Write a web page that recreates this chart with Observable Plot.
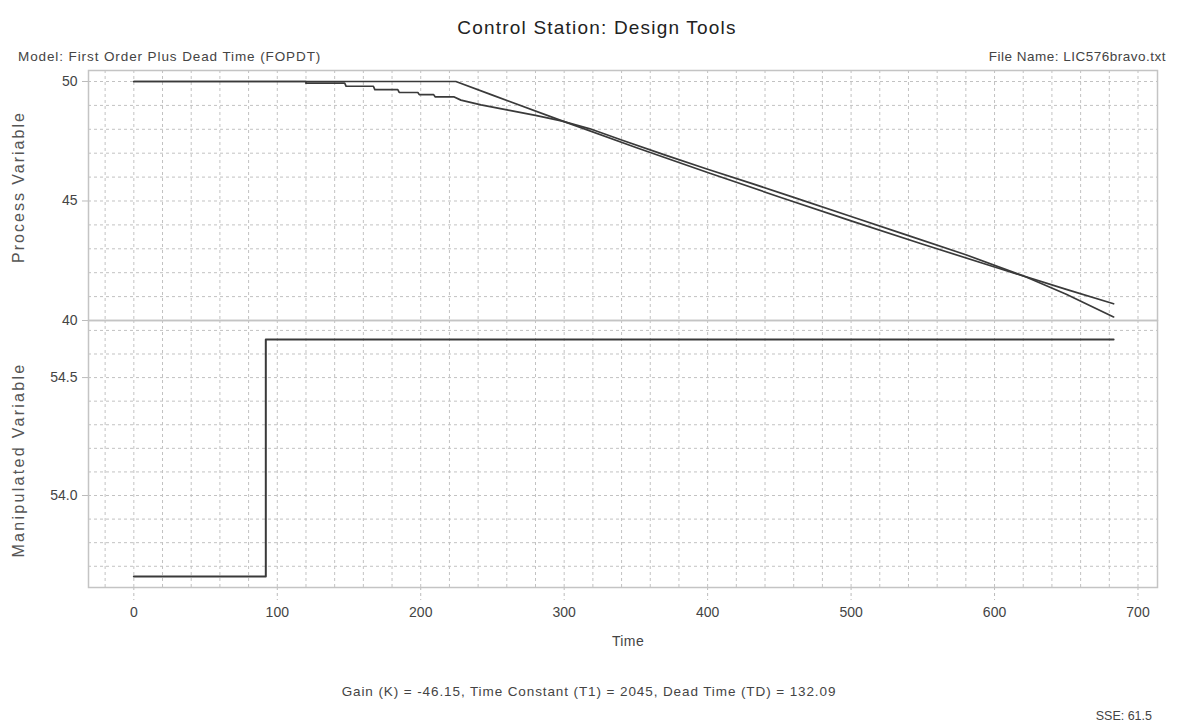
<!DOCTYPE html>
<html>
<head>
<meta charset="utf-8">
<script src="https://cdn.jsdelivr.net/npm/d3@7"></script>
<script src="https://cdn.jsdelivr.net/npm/@observablehq/plot@0.6"></script>
<style>
  html, body { margin: 0; padding: 0; background: #fff; }
  #wrap { position: relative; width: 1188px; height: 725px; font-family: "Liberation Sans", Arial, sans-serif; color: #333; overflow: hidden; }
  .t { position: absolute; white-space: nowrap; }
  svg { overflow: visible; }
</style>
</head>
<body>
<div id="wrap">
  <div class="t" id="title" style="left:597px; top:28px; transform:translate(-50%,-50%); font-size:19px; letter-spacing:1.2px; color:#222;">Control Station: Design Tools</div>
  <div class="t" style="left:18px; top:56px; transform:translateY(-50%); font-size:13.5px; letter-spacing:0.9px; color:#444;">Model: First Order Plus Dead Time (FOPDT)</div>
  <div class="t" style="right:22px; top:56px; transform:translateY(-50%); font-size:13.5px; letter-spacing:0.5px; color:#444;">File Name: LIC576bravo.txt</div>
  <div class="t" style="left:19px; top:187px; transform:translate(-50%,-50%) rotate(-90deg); font-size:16px; letter-spacing:2px; color:#555;">Process Variable</div>
  <div class="t" style="left:19px; top:460px; transform:translate(-50%,-50%) rotate(-90deg); font-size:16px; letter-spacing:2.3px; color:#555;">Manipulated Variable</div>
  <div class="t" style="left:628px; top:641px; transform:translate(-50%,-50%); font-size:14px; letter-spacing:0.4px; color:#444;">Time</div>
  <div class="t" style="left:589px; top:691px; transform:translate(-50%,-50%); font-size:13.5px; letter-spacing:0.9px; color:#444;">Gain (K) = -46.15, Time Constant (T1) = 2045, Dead Time (TD) = 132.09</div>
  <div class="t" style="right:36px; top:716px; transform:translateY(-50%); font-size:12.5px; color:#444;">SSE: 61.5</div>
  <div id="pv" style="position:absolute; left:0; top:70px;"></div>
  <div id="mv" style="position:absolute; left:0; top:320px;"></div>
</div>
<script>
// ---- data ----
const pvTime = [0, 120, 120, 147, 148, 167, 168, 184, 185, 198, 199, 209, 210, 223, 228, 242, 261, 280, 298, 318, 340, 370, 400, 430, 460, 500, 540, 580, 622, 650, 683];
const pvData = [50.0, 50.0, 49.93, 49.93, 49.8, 49.8, 49.66, 49.66, 49.54, 49.54, 49.45, 49.45, 49.36, 49.36, 49.22, 49.02, 48.8, 48.58, 48.35, 48.02, 47.55, 46.93, 46.33, 45.75, 45.15, 44.35, 43.55, 42.75, 41.82, 41.1, 40.15];
const modelTime = [0, 224.5, 250, 300, 350, 400, 450, 500, 550, 600, 650, 683];
const modelPV = [50.0, 50.0, 49.43, 48.32, 47.24, 46.19, 45.17, 44.17, 43.19, 42.24, 41.30, 40.70];
const mvTime = [0, 92, 92, 683];
const mvValue = [53.657, 53.657, 54.661, 54.661];
const xTicks = [0, 100, 200, 300, 400, 500, 600, 700];
const xGrid = [-20, 0, 20, 40, 60, 80, 100, 120, 140, 160, 180, 200, 220, 240, 260, 280, 300, 320, 340, 360, 380, 400, 420, 440, 460, 480, 500, 520, 540, 560, 580, 600, 620, 640, 660, 680, 700];
const pvTicks = [40, 45, 50];
const pvGrid = [41, 42, 43, 44, 45, 46, 47, 48, 49, 50];
const mvTicks = [54.0, 54.5];
const mvGrid = [53.7, 53.8, 53.9, 54.0, 54.1, 54.2, 54.3, 54.4, 54.5, 54.6, 54.7];

const xDomain = [-31.6, 713.6];
const pvRows = pvTime.map((t, i) => ({t, v: pvData[i]}));
const modelRows = modelTime.map((t, i) => ({t, v: modelPV[i]}));
const mvRows = mvTime.map((t, i) => ({t, v: mvValue[i]}));

const font = {fontFamily: "'Liberation Sans', Arial, sans-serif", fontSize: "14px", color: "#444", background: "transparent", overflow: "visible"};
const gridStyle = {stroke: "#c2c2c2", strokeOpacity: 1, strokeWidth: 1, strokeDasharray: "3,3"};
const lineStyle = {x: "t", y: "v", stroke: "#3a3a3a", strokeWidth: 1.7};

const pv = Plot.plot({
  width: 1188, height: 250,
  marginLeft: 88, marginRight: 31, marginTop: 0, marginBottom: 0,
  style: font,
  x: {domain: xDomain, axis: null},
  y: {domain: [40, 50.46], axis: null},
  marks: [
    Plot.gridX(xGrid, gridStyle),
    Plot.gridY(pvGrid, gridStyle),
    Plot.axisY(pvTicks, {tickSize: 6, tickPadding: 5, stroke: "#bbb", fill: "#444", label: null, fontSize: 14}),
    Plot.line(modelRows, lineStyle),
    Plot.line(pvRows, lineStyle),
    Plot.frame({stroke: "#c4c4c4", strokeWidth: 1.5})
  ]
});
document.getElementById("pv").appendChild(pv);

const mv = Plot.plot({
  width: 1188, height: 307,
  marginLeft: 88, marginRight: 31, marginTop: 0, marginBottom: 40,
  style: font,
  x: {domain: xDomain, axis: null},
  y: {domain: [53.61, 54.742], axis: null},
  marks: [
    Plot.gridX(xGrid, gridStyle),
    Plot.gridY(mvGrid, gridStyle),
    Plot.axisY(mvTicks, {tickSize: 6, tickPadding: 5, stroke: "#bbb", fill: "#444", label: null, tickFormat: d3.format(".1f"), fontSize: 14}),
    Plot.axisX(xTicks, {tickSize: 13, tickPadding: 7, stroke: "#bbb", strokeDasharray: "3,3", fill: "#444", label: null, fontSize: 14}),
    Plot.line(mvRows, {...lineStyle, strokeWidth: 2}),
    Plot.frame({stroke: "#c4c4c4", strokeWidth: 1.5})
  ]
});
document.getElementById("mv").appendChild(mv);
</script>
</body>
</html>
